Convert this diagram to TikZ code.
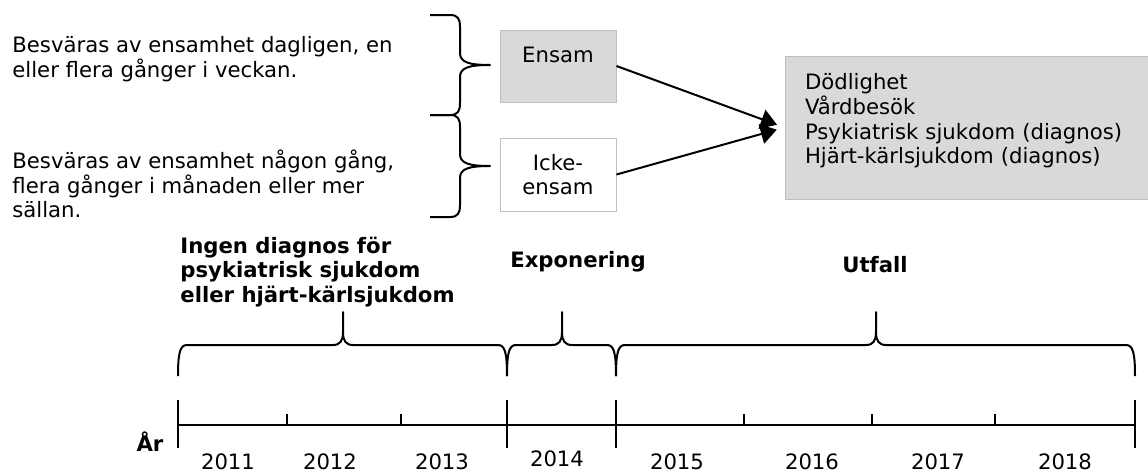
\documentclass[tikz,border=0pt]{standalone}
\usepackage{fontspec}
\setmainfont{DejaVu Sans}
\usetikzlibrary{arrows.meta,positioning,calc}
\newcommand{\diagfont}{\fontsize{10.6}{12.4}\selectfont}
\tikzset{
  box/.style     = {shape=rectangle, draw=black!25, line width=0.5pt,
                    fill=white, inner sep=0pt, minimum width=58pt,
                    align=center, font=\diagfont},
  greybox/.style = {box, fill=black!15},
  note/.style    = {align=left, inner sep=0pt, anchor=west, font=\diagfont},
  head/.style    = {note, font=\diagfont\bfseries},
  year/.style    = {inner sep=0pt, font=\diagfont},
  curly/.style   = {line width=1pt, line join=round},
  axis/.style    = {line width=1.2pt},
  conn/.style    = {draw, line width=1pt, shorten >=4pt,
                    -{Triangle[length=8pt,width=10pt]}},
}
% brace opening to the left, point to the right (top, bottom)
\newcommand{\sidebrace}[2]{%
  \draw[curly] (430,#1) -- (450,#1) .. controls (458,#1) and (460,{#1+4}) .. (460,{#1+12})
    -- (460,{(#1+#2)/2-12}) .. controls (460,{(#1+#2)/2-3}) and (468,{(#1+#2)/2}) .. (490,{(#1+#2)/2})
    .. controls (468,{(#1+#2)/2}) and (460,{(#1+#2)/2+3}) .. (460,{(#1+#2)/2+12})
    -- (460,{#2-12}) .. controls (460,{#2-4}) and (458,#2) .. (450,#2) -- (430,#2);}
% brace opening downwards (left, right, tip)
\newcommand{\upbrace}[3]{%
  \draw[curly] (#1,376) .. controls (#1,353) and ({#1+2},345) .. ({#1+9},345)
    -- ({#3-10},345) .. controls ({#3-3},345) and (#3,341) .. (#3,332) -- (#3,312)
    -- (#3,332) .. controls (#3,341) and ({#3+3},345) .. ({#3+10},345)
    -- ({#2-9},345) .. controls ({#2-2},345) and (#2,353) .. (#2,376);}

\begin{document}
\begin{tikzpicture}[x=0.5pt, y=-0.5pt]
    \useasboundingbox (0,0) rectangle (1148,472);

    % exposure groups
    \node [note] (dagl)   at (12,59.5)  {Besväras av ensamhet dagligen, en\\eller flera gånger i veckan.};
    \node [note] (sallan) at (12,184)   {Besväras av ensamhet någon gång,\\flera gånger i månaden eller mer\\sällan.};
    \sidebrace{15}{115}
    \sidebrace{115}{217}

    \node [greybox, minimum height=36pt, text height=8pt, text depth=11.5pt] (ensam) at (558,66) {Ensam};
    \node [box, minimum height=36.5pt] (icke) at (558,174.5) {Icke-\\ensam};

    \node [greybox, align=left, text width=162pt, inner xsep=10pt, minimum height=71.5pt,
           text height=8pt, text depth=46pt] (utfall) at (967,127.5)
          {Dödlighet\\Vårdbesök\\Psykiatrisk sjukdom (diagnos)\\Hjärt-kärlsjukdom (diagnos)};

    \draw [conn] (ensam.east) -- (utfall.west);
    \draw [conn] (icke.east)  -- (utfall.west);

    % periods
    \node [head] (ingen) at (180,272) {Ingen diagnos för\\psykiatrisk sjukdom\\eller hjärt-kärlsjukdom};
    \node [head, anchor=center] (expo) at (578,262) {Exponering};
    \node [head, anchor=center] (utf)  at (875,265) {Utfall};
    \upbrace{178}{507}{343}
    \upbrace{507}{616}{562}
    \upbrace{616}{1135}{876}

    % time axis
    \draw [axis] (178,425) -- (1135,425);
    \foreach \x in {178,507,616,1135}
        \draw [axis] (\x,400) -- (\x,448);
    \foreach \x in {287,401,744,872,995}
        \draw [line width=0.8pt] (\x,414) -- (\x,425);
    \node [head, anchor=center] (ar) at (150,442) {År};
    \foreach \yr/\x in {2011/228,2012/330,2013/442,2015/677,2016/812,2017/938,2018/1065}
        \node [year] (y\yr) at (\x,462) {\yr};
    \node [year] (y2014) at (557,459) {2014};
\end{tikzpicture}
\end{document}
